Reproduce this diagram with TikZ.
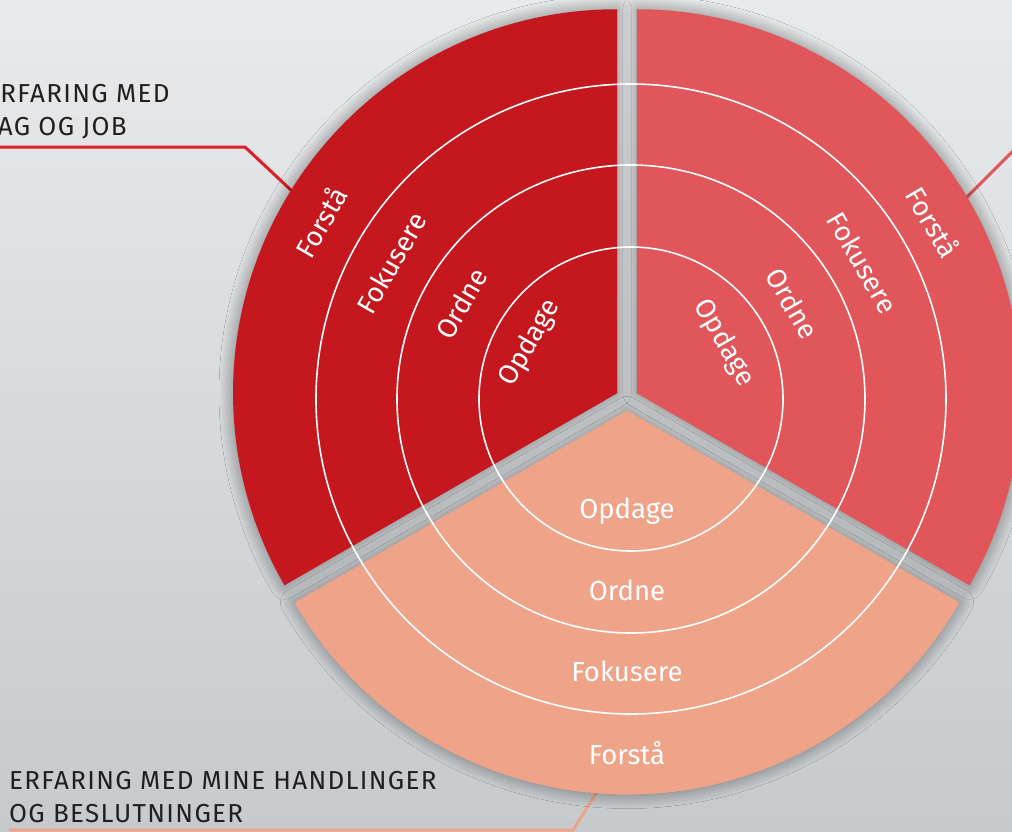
\documentclass[tikz,border=0pt]{standalone}
\usepackage{fontspec}
\setmainfont{Fira Sans}
\newfontfamily\capfont[LetterSpace=5]{Fira Sans}
\usetikzlibrary{shadows.blur}
\definecolor{darkred}{RGB}{196,23,30}
\definecolor{midred}{RGB}{224,86,90}
\definecolor{salmon}{RGB}{239,164,138}
\definecolor{linered}{RGB}{220,30,38}
\definecolor{labelgray}{RGB}{35,31,32}
\definecolor{bgtop}{RGB}{233,234,235}
\definecolor{bgbottom}{RGB}{198,202,205}
\begin{document}
\begin{tikzpicture}
	[x=1pt,y=1pt,
	sector/.style={blur shadow={shadow xshift=0pt,shadow yshift=0pt,shadow blur radius=14pt,shadow blur steps=24,shadow opacity=45}},
	ring/.style={draw=white,line width=1.6pt},
	word/.style={text=white,font=\fontsize{27.5}{30}\selectfont},
	caption/.style={text=labelgray,align=left,inner sep=0pt,font=\capfont\fontsize{26}{33}\selectfont},
	link/.style={draw=#1,line width=3pt}]
	\useasboundingbox (-627,-432) rectangle (385,399);
	\clip (-627,-432) rectangle (385,399);
	\shade[top color=bgtop,bottom color=bgbottom] (-627,-432) rectangle (385,399);
	% captions and their lines
	\node[caption,anchor=base west] (fagtext) at (-642,264) {ERFARING MED\\FAG OG JOB};
	\node[caption,anchor=base west] (opttext) at (-618,-423) {ERFARING MED MINE HANDLINGER\\OG BESLUTNINGER};
	\coordinate (fagknee) at (-382,252);
	\coordinate (fagedge) at (-334,207);
	\coordinate (midedge) at (338,200);
	\coordinate (midout) at (420,282);
	\coordinate (optknee) at (-54,-431);
	\coordinate (optedge) at (-30,-393);
	\draw[link=linered] (fagtext.west |- fagknee) -- (fagknee) -- (fagedge);
	\draw[link=midred] (midedge) -- (midout);
	\draw[link=salmon] (opttext.west |- optknee) -- (optknee) -- (optedge);
	% the three sectors
	\fill[darkred,sector] (150:11.5) -- ++(90:384) arc[start angle=90,end angle=210,radius=384] -- cycle;
	\fill[midred,sector] (30:11.5) -- ++(-30:384) arc[start angle=-30,end angle=90,radius=384] -- cycle;
	\fill[salmon,sector] (270:11.5) -- ++(210:384) arc[start angle=210,end angle=330,radius=384] -- cycle;
	\foreach \r in {152,234,315}
		\draw[ring] (4,0) circle[radius=\r];
	\foreach \r/\word [count=\i] in {112/Opdage,191/Ordne,272/Fokusere,354/Forstå} {
		\node[word,rotate=60] (fag\i) at (150:\r) {\word};
		\node[word,rotate=-60] (mid\i) at (30:\r) {\word};
		\node[word] (opt\i) at (270:\r) {\word};
	}
\end{tikzpicture}
\end{document}
